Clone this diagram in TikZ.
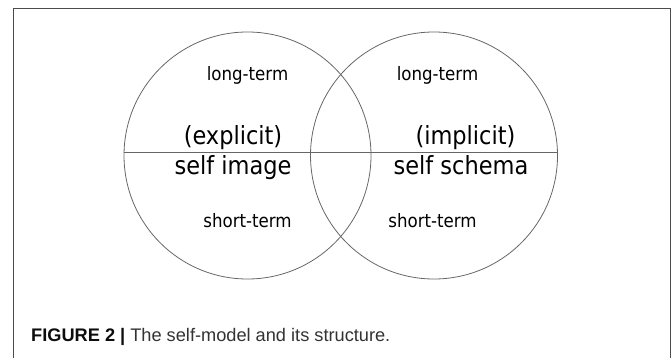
\documentclass[tikz,border=0pt]{standalone}
\usepackage{fontspec}
\setmainfont{Liberation Sans}
\newfontfamily\tahfont{DejaVu Sans Condensed}
\usepackage{tikz}
\usetikzlibrary{positioning}

\begin{document}
\begin{tikzpicture}[x=1pt,y=-1pt,
        ring/.style={circle,draw=black!60,line width=0.8pt,minimum size=247pt,inner sep=0pt},
        small/.style={anchor=base,inner sep=0pt,text=black,font=\tahfont\fontsize{18.5}{20}\selectfont},
        big/.style={anchor=base,inner sep=0pt,text=black,font=\tahfont\fontsize{25}{28}\selectfont}]

\useasboundingbox (0,0) rectangle (672,358);
\draw[black!70,line width=0.8pt] (13,362) -- (13,8.5) -- (670,8.5) -- (670,362);

\node[ring] (image) at (247.5,155.5) {};
\node[ring] (schema) at (434,155.5) {};

\coordinate (cutL) at (124,152.5);
\coordinate (cutR) at (557.5,152.5);
\draw[black!60,line width=0.8pt] (cutL) -- (cutR);

\node[small] (longL) at (247.5,81) {long-term};
\node[small] (longR) at (437.5,81) {long-term};
\node[big] (explicit) at (233,145) {(explicit)};
\node[big] (selfimage) at (233,175) {self image};
\node[big] (implicit) at (465.5,145) {(implicit)};
\node[big] (selfschema) at (461,175) {self schema};
\node[small] (shortL) at (247.5,228) {short-term};
\node[small] (shortR) at (432.5,228) {short-term};

\node[anchor=base west,inner sep=0pt,text=black!80,font=\fontsize{18.2}{20}\selectfont] (caption) at (31,341)
  {\textcolor{black!95}{\textbf{FIGURE 2 |}} The self-model and its structure.};

\end{tikzpicture}
\end{document}
